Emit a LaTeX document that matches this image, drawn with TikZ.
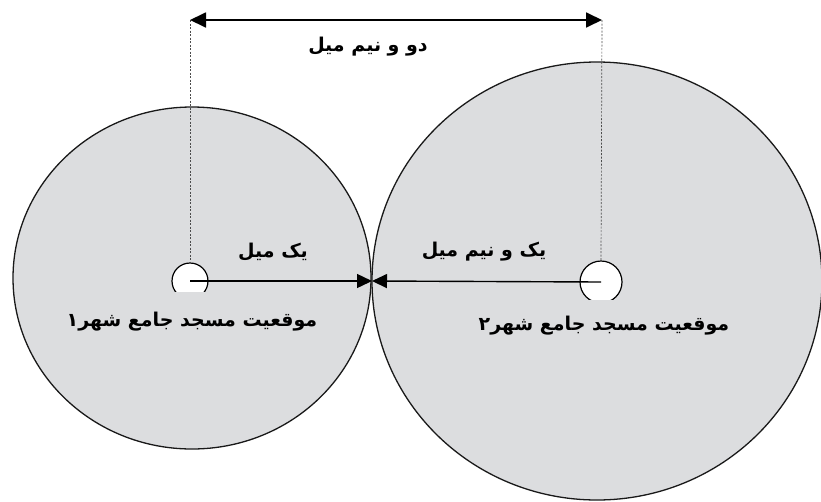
\documentclass[tikz,border=0pt]{standalone}
\usepackage{fontspec}
\usetikzlibrary{arrows.meta,shapes.geometric}
\TeXXeTstate=1
\newfontfamily\arabicfont[Script=Arabic]{DejaVu Sans}
\definecolor{discgray}{RGB}{220,221,223}
\tikzset{
  disc/.style={ellipse, draw=black!90, line width=1.3pt, fill=discgray, inner sep=0pt},
  hub/.style={circle, draw=black, line width=1.2pt, fill=white, inner sep=0pt},
  dotln/.style={draw=black!70, line width=0.7pt, dash pattern=on 2pt off 1.5pt},
  bigarr/.style={line width=1.8pt, {Triangle[length=16pt,width=15pt]}-{Triangle[length=16pt,width=15pt]}},
  radarr/.style={line width=1.4pt, -{Triangle[length=15pt,width=14pt]}},
  lbl/.style={font=\arabicfont\bfseries\fontsize{19}{22}\selectfont, inner sep=0pt}
}
\begin{document}
\begin{tikzpicture}[x={(1pt,0pt)}, y={(0pt,-1pt)}]
\useasboundingbox (0,0) rectangle (821,501);
% discs
\node[disc, minimum width=358pt, minimum height=342pt] (dL) at (192,278) {};
\node[disc, minimum width=450pt, minimum height=438pt] (dR) at (597,281) {};
\coordinate (T) at (372,281);
% hubs (bottom cut off)
\begin{scope}
\clip (0,0) rectangle (821,291);
\node[hub, minimum size=36pt] (hL) at (190,281) {};
\end{scope}
\begin{scope}
\clip (0,0) rectangle (821,299);
\node[hub, minimum size=42pt] (hR) at (601,282) {};
\end{scope}
% radius arrows
\draw[radarr] (hL.center) -- (T);
\draw[radarr] (hR.center) -- (T);
% top dimension
\coordinate (A) at (190,20);
\coordinate (B) at (602,20);
\draw[dotln] (A) -- (hL.north);
\draw[dotln] (B) -- (hR.north);
\draw[bigarr] (A) -- (B);
% labels
\node[lbl] (l2) at (368,47) {\beginR دو و نیم میل\endR};
\node[lbl] (l1) at (273,252) {\beginR یک میل\endR};
\node[lbl] (l15) at (484,252) {\beginR یک و نیم میل\endR};
\node[lbl] (m1) at (192,322) {\beginR موقعیت مسجد جامع شهر۱\endR};
\node[lbl] (m2) at (604,326) {\beginR موقعیت مسجد جامع شهر۲\endR};
\end{tikzpicture}
\end{document}
